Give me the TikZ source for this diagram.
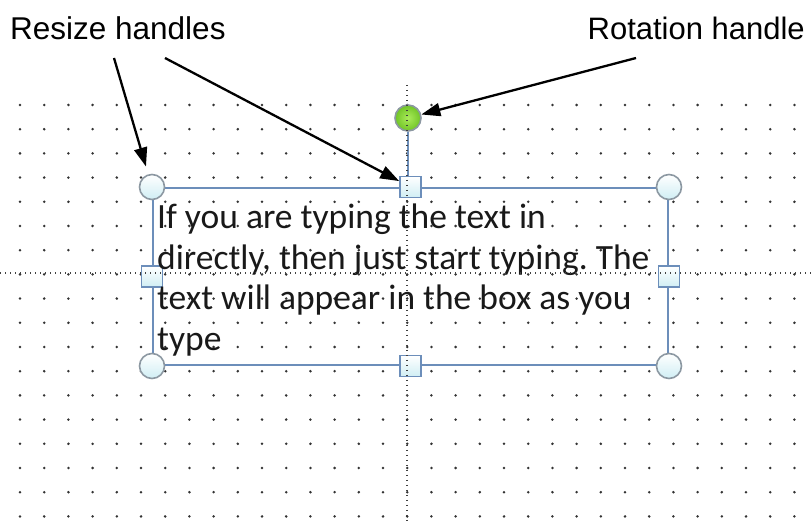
\documentclass[tikz,border=0pt]{standalone}
\usepackage{fontspec}
\newfontfamily\labelfont{Liberation Sans}
\newfontfamily\boxfont{Carlito}
\usetikzlibrary{arrows.meta}
\definecolor{framecol}{RGB}{108,142,186}
\definecolor{handlecyan}{RGB}{208,238,244}
\definecolor{handlegray}{RGB}{140,152,162}
\definecolor{rotlight}{RGB}{170,235,90}
\definecolor{rotdark}{RGB}{112,196,38}
\frenchspacing

\begin{document}
\begin{tikzpicture}[x=1pt, y=-1pt,
      griddot/.style = {fill=black!80},
      guide/.style = {draw=black!75, line width=1.3pt, dash pattern=on 1.3pt off 3.7pt},
      cornerhandle/.style = {circle, draw=handlegray, line width=1.6pt,
        minimum size=25pt, inner sep=0pt, top color=white, bottom color=handlecyan},
      sidehandle/.style = {rectangle, draw=framecol, line width=1.6pt,
        minimum size=21pt, inner sep=0pt, top color=white, bottom color=handlecyan},
      pointer/.style = {draw=black, line width=2.3pt, -{Triangle[length=19pt,width=13pt]}}]
      \useasboundingbox (0,0) rectangle (812,521);
      \foreach \i in {0,...,32}
        \foreach \j in {0,...,17}
          \fill[griddot] (20+24.2*\i,105+24.2*\j) circle (1.4pt);
      \node[draw=framecol, line width=2pt, minimum width=515pt, minimum height=177pt,
        inner sep=0pt] (frame) at (410.5,276.5) {};
      \node[circle, draw=handlegray, line width=1.6pt, minimum size=26pt, inner sep=0pt,
        inner color=rotlight, outer color=rotdark] (rot) at (408,118) {};
      \draw[framecol, line width=2pt] (rot) -- (408,177.5);
      \node[cornerhandle] (nw) at (frame.north west) {};
      \node[cornerhandle] (ne) at (frame.north east) {};
      \node[cornerhandle] (sw) at (frame.south west) {};
      \node[cornerhandle] (se) at (frame.south east) {};
      \node[sidehandle] (n) at (frame.north) {};
      \node[sidehandle] (s) at (frame.south) {};
      \node[sidehandle] (w) at (frame.west) {};
      \node[sidehandle] (e) at (frame.east) {};
      \node[anchor=north west, inner sep=0pt, align=left, text=black!90,
        font=\boxfont\fontsize{35.5}{40.5}\selectfont] (msg) at (157,204)
        {If you are typing the text in\\directly, then just start typing. The\\text will appear in the box as you\\type};
      \draw[guide] (407,85) -- (407,521);
      \draw[guide] (0,273) -- (812,273);
      \node[anchor=base west, inner sep=0pt, font=\labelfont\fontsize{31.5}{31.5}\selectfont]
        (resize) at (10,40) {Resize handles};
      \node[anchor=base east, inner sep=0pt, font=\labelfont\fontsize{31}{31}\selectfont]
        (rotation) at (805,40) {Rotation handle};
      \coordinate (p1) at (114,58);
      \coordinate (p2) at (165,58);
      \coordinate (p3) at (636,58);
      \draw[pointer, shorten >=8pt] (p1) -- (nw);
      \draw[pointer] (p2) -- (n);
      \draw[pointer] (p3) -- (rot);
  \end{tikzpicture}
\end{document}
